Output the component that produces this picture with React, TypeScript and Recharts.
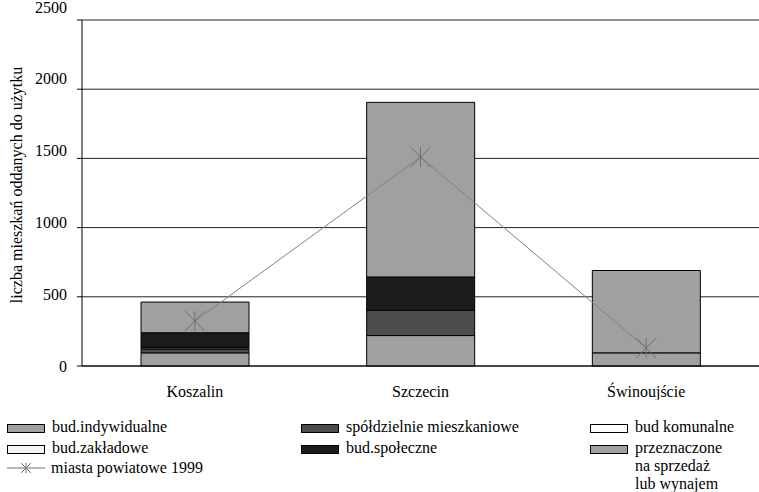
import { ComposedChart, Bar, Line, XAxis, YAxis, CartesianGrid, Label } from "recharts";

const cities = ["Koszalin", "Szczecin", "Świnoujście"];
const indywidualne = [95, 220, 95];
const spoldzielnie = [25, 183, 0];
const komunalne = [10, 0, 0];
const zakladowe = [5, 0, 0];
const spoleczne = [105, 240, 0];
const przeznaczone = [222, 1262, 595];
const miastaPowiatowe = [325, 1510, 130];
const yTicks = [0, 500, 1000, 1500, 2000, 2500];

const series = [
  { key: "ind", name: "bud.indywidualne", color: "#a0a0a0", values: indywidualne },
  { key: "spol", name: "spółdzielnie mieszkaniowe", color: "#4d4d4d", values: spoldzielnie },
  { key: "kom", name: "bud komunalne", color: "#ffffff", values: komunalne },
  { key: "zak", name: "bud.zakładowe", color: "#f4f4f4", values: zakladowe },
  { key: "spo", name: "bud.społeczne", color: "#1c1c1c", values: spoleczne },
  { key: "prz", name: "przeznaczone\nna sprzedaż\nlub wynajem", color: "#a0a0a0", values: przeznaczone },
];

const data = cities.map((c, i) => {
  const row: Record<string, string | number> = { city: c, miasta: miastaPowiatowe[i] };
  series.forEach((s) => (row[s.key] = s.values[i]));
  return row;
});

const serif = "'Liberation Serif', 'Times New Roman', serif";

function Star(props: any) {
  const { cx, cy } = props;
  if (cx == null || cy == null) return null;
  const r = 10;
  return (
    <g stroke="#707070" strokeWidth={1}>
      <line x1={cx} y1={cy - r} x2={cx} y2={cy + r} />
      <line x1={cx - r} y1={cy - r} x2={cx + r} y2={cy + r} />
      <line x1={cx - r} y1={cy + r} x2={cx + r} y2={cy - r} />
    </g>
  );
}

// labels sit slightly above their gridlines, more so towards the top
function YTick(props: any) {
  const { x, y, payload } = props;
  const shift = -13 * (payload.value / 2500);
  return (
    <text x={x} y={y + shift} dy="0.35em" textAnchor="end" fill="#000" fontFamily={serif} fontSize={16}>
      {payload.value}
    </text>
  );
}

function LegendItem({ name, color, left, top }: { name: string; color: string; left: number; top: number }) {
  return (
    <div style={{ position: "absolute", left, top, display: "flex", alignItems: "flex-start" }}>
      <span style={{ width: 36, height: 7, marginTop: 6, background: color, border: "1px solid #000", display: "inline-block", boxSizing: "content-box" }} />
      <span style={{ marginLeft: 7, whiteSpace: "pre", lineHeight: "18px" }}>{name}</span>
    </div>
  );
}

export default function App() {
  const cols = [7, 301, 590];
  const rows = [418, 439];
  return (
    <div style={{ position: "absolute", left: 0, top: 0, width: 759, height: 492, background: "#fff", fontFamily: serif, fontSize: 16 }}>
      <ComposedChart width={759} height={400} data={data} margin={{ top: 20, right: 0, left: 0, bottom: 0 }}>
        <CartesianGrid horizontal vertical={false} stroke="#222" />
        <XAxis dataKey="city" axisLine={{ stroke: "#000" }} tickLine={false} height={34} tickMargin={14}
          tick={{ fill: "#000", fontFamily: serif, fontSize: 16 }} />
        <YAxis width={82} domain={[0, 2500]} ticks={yTicks} axisLine={{ stroke: "#000" }} tickLine={{ stroke: "#000" }}
          tickSize={5} tickMargin={10} tick={<YTick />}>
          <Label value="liczba mieszkań oddanych do użytku" angle={-90} position="insideLeft" offset={16} dy={-8}
            style={{ fill: "#000", fontFamily: serif, fontSize: 16, textAnchor: "middle" }} />
        </YAxis>
        {series.map((s) => (
          <Bar key={s.key} dataKey={s.key} stackId="a" fill={s.color} stroke="#000" strokeWidth={1}
            barSize={108} isAnimationActive={false} />
        ))}
        <Line dataKey="miasta" stroke="#808080" strokeWidth={1} dot={<Star />} activeDot={false}
          isAnimationActive={false} type="linear" />
      </ComposedChart>
      {series.map((s, i) => (
        <LegendItem key={s.key} name={s.name} color={s.color} left={cols[i % 3]} top={rows[Math.floor(i / 3)]} />
      ))}
      <div style={{ position: "absolute", left: 7, top: 458, display: "flex", alignItems: "center" }}>
        <svg width={38} height={20}>
          <line x1={0} y1={10} x2={38} y2={10} stroke="#707070" />
          <line x1={19} y1={5} x2={19} y2={15} stroke="#707070" />
          <line x1={14} y1={5} x2={24} y2={15} stroke="#707070" />
          <line x1={14} y1={15} x2={24} y2={5} stroke="#707070" />
        </svg>
        <span style={{ marginLeft: 6, lineHeight: "20px" }}>miasta powiatowe 1999</span>
      </div>
    </div>
  );
}
